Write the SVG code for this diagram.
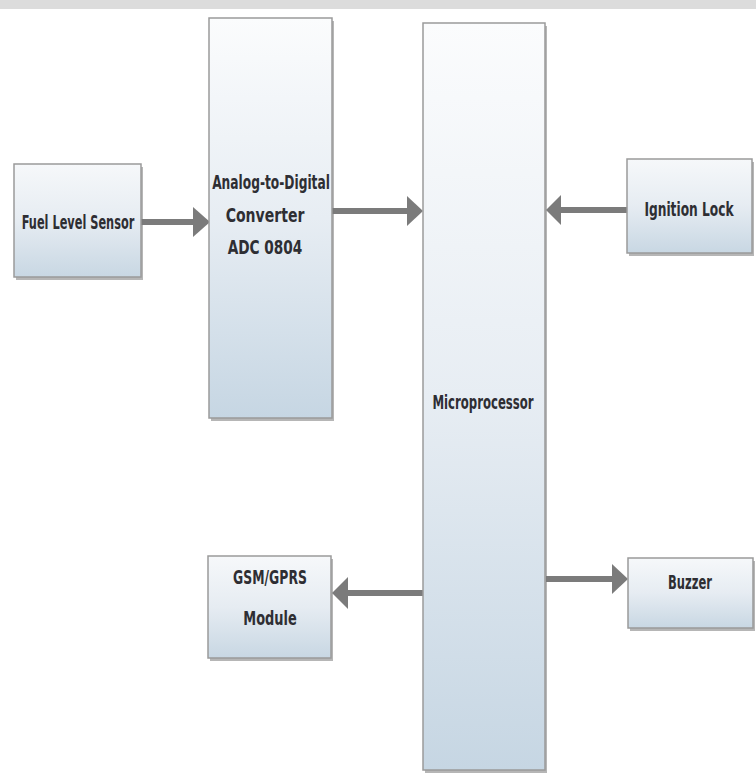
<svg xmlns="http://www.w3.org/2000/svg" width="756" height="777" viewBox="0 0 756 777">
<style>
.box{stroke:#9a9a9a;stroke-width:1.5}
.sh{fill:#7a7a7a;opacity:0.55}
.t{font-family:"DejaVu Sans Condensed","Liberation Sans",sans-serif;font-weight:bold;font-size:20px;fill:#2e2e33;text-anchor:middle;dominant-baseline:central}
.ln{stroke:#7b7b7b;stroke-width:6;fill:none}
.ah{fill:#7b7b7b}
</style>
<defs>
<linearGradient id="gs" x1="0" y1="0" x2="0" y2="1">
<stop offset="0" stop-color="#f6f8fa"/>
<stop offset="0.5" stop-color="#e6ecf2"/>
<stop offset="1" stop-color="#c8d7e3"/>
</linearGradient>
<linearGradient id="gt" x1="0" y1="0" x2="0" y2="1">
<stop offset="0" stop-color="#fbfcfd"/>
<stop offset="0.5" stop-color="#e7edf3"/>
<stop offset="1" stop-color="#c6d6e3"/>
</linearGradient>
</defs>
<rect width="756" height="777" fill="#ffffff"/>
<rect width="756" height="9" fill="#dcdcdc"/>
<g id="connectors">
<line class="ln" x1="141" y1="222" x2="196" y2="222"/>
<polygon class="ah" points="193,207 210,222 193,237"/>
<line class="ln" x1="332" y1="211" x2="410" y2="211"/>
<polygon class="ah" points="407,196 423,211 407,226"/>
<line class="ln" x1="627" y1="210" x2="558" y2="210"/>
<polygon class="ah" points="561,195 546,210 561,225"/>
<line class="ln" x1="423" y1="593" x2="346" y2="593"/>
<polygon class="ah" points="348,577 332,593 348,609"/>
<line class="ln" x1="546" y1="579" x2="614" y2="579"/>
<polygon class="ah" points="612,564 628,579 612,594"/>
</g>
<g id="fuel">
<rect class="sh" x="16" y="167" width="127" height="113"/>
<rect class="box" x="14" y="164" width="127" height="113" fill="url(#gs)"/>
<text class="t" transform="translate(78,222) scale(0.63,1)">Fuel Level Sensor</text>
</g>
<g id="adc">
<rect class="sh" x="211" y="21" width="123" height="400"/>
<rect class="box" x="209" y="18" width="123" height="400" fill="url(#gt)"/>
<text class="t" transform="translate(271,182) scale(0.68,1)">Analog-to-Digital</text>
<text class="t" transform="translate(265,215) scale(0.78,1)">Converter</text>
<text class="t" transform="translate(265,247) scale(0.76,1)">ADC 0804</text>
</g>
<g id="micro">
<rect class="sh" x="425" y="26" width="122" height="747"/>
<rect class="box" x="423" y="23" width="122" height="747" fill="url(#gt)"/>
<text class="t" transform="translate(483,402) scale(0.65,1)">Microprocessor</text>
</g>
<g id="ignition">
<rect class="sh" x="629" y="162" width="125" height="94"/>
<rect class="box" x="627" y="159" width="125" height="94" fill="url(#gs)"/>
<text class="t" transform="translate(689,209) scale(0.68,1)">Ignition Lock</text>
</g>
<g id="gsm">
<rect class="sh" x="210" y="559" width="123" height="102"/>
<rect class="box" x="208" y="556" width="123" height="102" fill="url(#gs)"/>
<text class="t" transform="translate(270,577) scale(0.69,1)">GSM/GPRS</text>
<text class="t" transform="translate(270,618) scale(0.72,1)">Module</text>
</g>
<g id="buzzer">
<rect class="sh" x="630" y="561" width="125" height="70"/>
<rect class="box" x="628" y="558" width="125" height="70" fill="url(#gs)"/>
<text class="t" transform="translate(690,582) scale(0.64,1)">Buzzer</text>
</g>
</svg>
